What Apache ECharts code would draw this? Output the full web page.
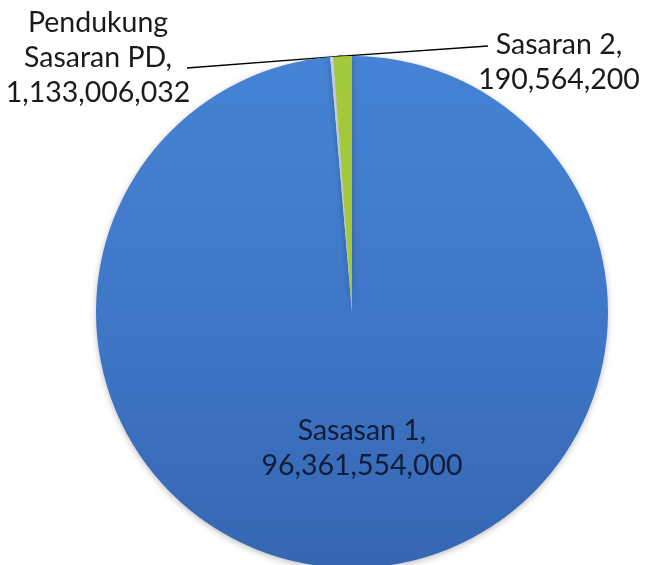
<!DOCTYPE html>
<html>
<head>
<meta charset="utf-8">
<script src="https://cdn.jsdelivr.net/npm/echarts@6/dist/echarts.min.js"></script>
<style>
html,body{margin:0;padding:0;background:#fff;}
#chart{width:645px;height:565px;}
</style>
</head>
<body>
<div id="chart"></div>
<script>
// Data
var categories = ['Sasasan 1', 'Sasaran 2', 'Pendukung\nSasaran PD'];
var values = [96361554000, 190564200, 1133006032];
var colors = ['#3f77c8', '#d6e0ea', '#a4c83c'];

var chart = echarts.init(document.getElementById('chart'));

function fmt(v) {
  return v.toLocaleString('en-US');
}

var labelPos = {
  0: { x: 362, y: 448, align: 'center' },
  1: { x: 559, y: 62, align: 'center', lineEnd: [488, 46] },
  2: { x: 98, y: 58, align: 'center', lineEnd: [187, 68] }
};

var data = categories.map(function (name, i) {
  var item = {
    name: name,
    value: values[i],
    itemStyle: { color: colors[i] }
  };
  if (i === 0) {
    item.itemStyle.color = {
      type: 'linear', x: 0, y: 0, x2: 0, y2: 1,
      colorStops: [
        { offset: 0, color: '#4683d4' },
        { offset: 0.5, color: '#3f77c8' },
        { offset: 1, color: '#3666b2' }
      ]
    };
    item.label = { position: 'inside', color: '#0f1d38' };
  }
  return item;
});

chart.setOption({
  backgroundColor: '#ffffff',
  animation: false,
  series: [{
    type: 'pie',
    center: [352, 312],
    radius: [0, 256],
    startAngle: 90,
    clockwise: true,
    data: data,
    itemStyle: {
      borderWidth: 0,
      shadowColor: 'rgba(0,0,0,0.25)',
      shadowBlur: 6,
      shadowOffsetY: 2
    },
    label: {
      show: true,
      position: 'outside',
      overflow: 'none',
      fontFamily: 'Lato',
      fontSize: 28.5,
      lineHeight: 35,
      color: '#1a1a1a',
      formatter: function (p) {
        return p.name + ',\n' + fmt(p.value);
      }
    },
    labelLine: {
      show: true,
      length: 10,
      length2: 10,
      lineStyle: { color: '#000', width: 1.3 }
    },
    labelLayout: function (params) {
      var pos = labelPos[params.dataIndex];
      var res = {
        x: pos.x,
        y: pos.y,
        align: pos.align,
        verticalAlign: 'middle'
      };
      if (pos.lineEnd) {
        var start = params.labelLinePoints ? params.labelLinePoints[0] : [335, 66];
        res.labelLinePoints = [start, start, pos.lineEnd];
      }
      return res;
    }
  }]
});
</script>
</body>
</html>
